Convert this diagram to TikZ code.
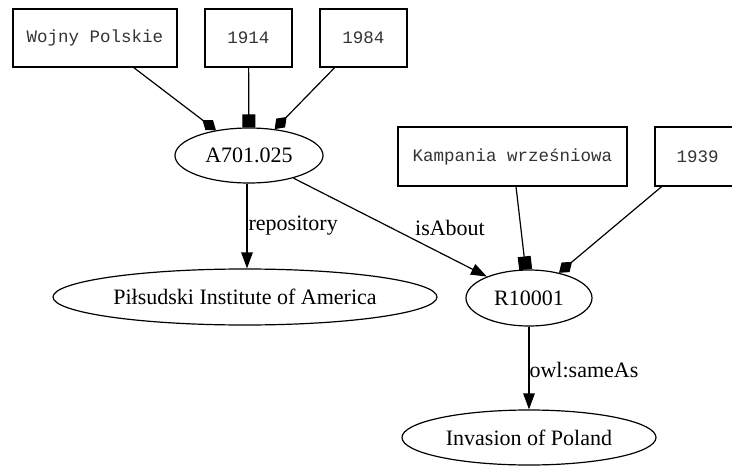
\documentclass[tikz,border=0pt]{standalone}
\usepackage{fontspec}
\setmainfont{Liberation Serif}
\newfontfamily\courfont{Liberation Mono}
\usetikzlibrary{arrows.meta,shapes.geometric}
\begin{document}
\begin{tikzpicture}[x=1pt,y=-1pt,
  ell/.style={draw, ellipse, inner sep=0pt, line width=1.2pt, font=\fontsize{22}{26}\selectfont},
  lit/.style={draw, rectangle, inner sep=0pt, line width=1.4pt, text=black!80, font=\courfont\fontsize{17.5}{20}\selectfont},
  edgeline/.style={line width=1.2pt},
  lbl/.style={font=\fontsize{22}{26}\selectfont, inner sep=0pt},
  tri/.style={-{Triangle[length=16pt,width=11.5pt]}},
  dia/.style={-{Diamond[length=17pt,width=12.5pt]}},
  sq/.style={-{Square[length=13pt,width=13pt]}}]
\useasboundingbox (0,0) rectangle (732,466);
\clip (0,0) rectangle (732,466);
% literal boxes
\node[lit, minimum width=164pt, minimum height=58pt] (wp) at (95,38) {Wojny Polskie};
\node[lit, minimum width=87pt, minimum height=58pt] (y1914) at (248.5,38) {1914};
\node[lit, minimum width=87pt, minimum height=58pt] (y1984) at (363.5,38) {1984};
\node[lit, minimum width=229pt, minimum height=59pt] (kw) at (512.5,156.5) {Kampania wrześniowa};
\node[lit, minimum width=85pt, minimum height=59pt] (y1939) at (697.5,156.5) {1939};
% resource ellipses
\node[ell, minimum width=148pt, minimum height=55pt] (a) at (249,155.5) {A701.025};
\node[ell, minimum width=126pt, minimum height=56pt] (r) at (529,298) {R10001};
\node[ell, minimum width=384pt, minimum height=56pt] (p) at (245,297) {Piłsudski Institute of America};
\node[ell, minimum width=254pt, minimum height=55pt] (inv) at (529,437.5) {Invasion of Poland};
% edges
\draw[edgeline,dia] (wp) -- (a);
\draw[edgeline,sq] (y1914) -- (a);
\draw[edgeline,dia] (y1984) -- (a);
\draw[edgeline,sq] (kw) -- (r);
\draw[edgeline,dia] (y1939) -- (r);
\draw[edgeline,tri] ([xshift=-2pt]a.south) -- ([xshift=-2pt]a.south |- p.north)
  node[lbl, anchor=west, pos=0.5, xshift=1pt] {repository};
\draw[edgeline,tri] (a) -- (r);
\node[lbl] (isab) at (450,228) {isAbout};
\draw[edgeline,tri] (r) -- node[lbl, anchor=west, pos=0.52] {owl:sameAs} (inv);
\end{tikzpicture}
\end{document}
